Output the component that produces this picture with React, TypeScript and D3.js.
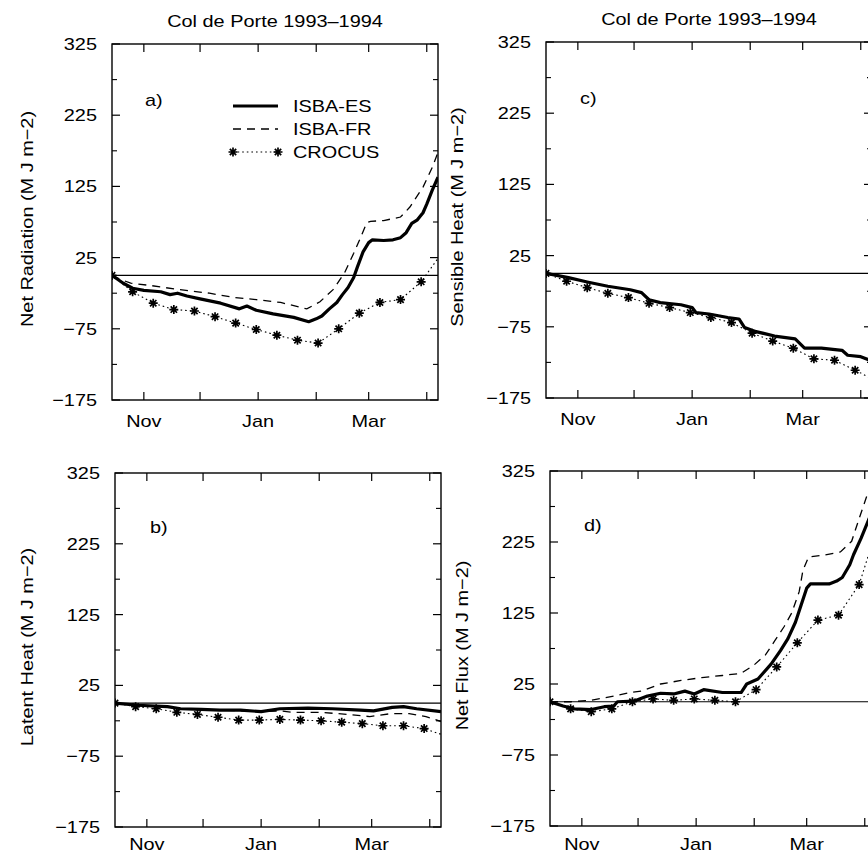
import React from 'react';
import * as d3 from 'd3';

type Pt = [number, number];

// ---------- axis definitions ----------
const SEASON_START = '1993-10-15';
const SEASON_END = '1994-04-07';
const MONTH_TICK_DATES = ['1993-11-01', '1993-12-01', '1994-01-01', '1994-02-01', '1994-03-01', '1994-04-01'];
const MONTH_TICK_LABELS = ['Nov', '', 'Jan', '', 'Mar', ''];
const Y_MAJOR = [325, 225, 125, 25, -75, -175];
const Y_MINOR = [275, 175, 75, -25, -125];
const Y_DOMAIN = [-175, 325];
const TITLE = 'Col de Porte 1993\u20131994';
const SERIES_NAMES = ['ISBA-ES', 'ISBA-FR', 'CROCUS'];

// ---------- data: [days since 15 Oct 1993, value (MJ m-2)] ----------
const NETRAD_ES: Pt[] = [[0,0],[6,-11],[11,-18],[17,-21],[26,-23],[31,-27],[35,-25],[40,-29],[47,-33],[58,-39],[68,-47],[72,-43],[77,-49],[86,-54],[97,-59],[105,-65],[109,-61],[112,-57],[116,-47],[120,-38],[123,-27],[126,-17],[129,-3],[131,12],[134,33],[137,46],[139,50],[145,49],[150,50],[154,53],[157,60],[160,73],[163,78],[166,88],[168,100],[171,120],[174,138]];
const NETRAD_FR: Pt[] = [[0,0],[5,-6],[10,-11],[20,-14],[36,-20],[52,-25],[65,-31],[77,-34],[90,-38],[104,-47],[111,-37],[118,-20],[124,3],[129,31],[132,49],[136,74],[138,76],[145,77],[154,82],[159,96],[166,124],[171,152],[174,173]];

const LATENT_ES: Pt[] = [[0,0],[12,-3],[28,-5],[35,-8],[46,-9],[56,-10],[67,-10],[78,-12],[88,-8],[103,-7],[116,-8],[131,-10],[138,-11],[148,-6],[154,-5],[161,-8],[174,-12]];
const LATENT_FR: Pt[] = [[0,0],[12,-3],[28,-6],[35,-8],[46,-9],[56,-10],[67,-11],[78,-12],[88,-11],[95,-13],[110,-13],[124,-16],[136,-19],[147,-15],[157,-15],[166,-19],[174,-26]];

const SENSIBLE_ES: Pt[] = [[0,0],[12,-6],[22,-12],[33,-18],[45,-23],[51,-27],[55,-37],[61,-41],[72,-44],[78,-48],[80,-55],[87,-57],[97,-62],[103,-64],[106,-76],[111,-81],[122,-88],[133,-92],[138,-105],[147,-105],[158,-108],[161,-115],[168,-117],[174,-123]];
const SENSIBLE_FR: Pt[] = [[0,0],[12,-6],[22,-12],[33,-18],[45,-23],[51,-27],[55,-37],[61,-41],[72,-44],[78,-48],[80,-55],[87,-57],[97,-62],[103,-64],[106,-76],[111,-81],[122,-88],[133,-92],[138,-105],[147,-105],[158,-108],[161,-115],[168,-117],[174,-123]];

const NETFLUX_ES: Pt[] = [[0,0],[7,-6],[13,-10],[22,-11],[29,-7],[34,-6],[36,0],[45,1],[52,8],[59,12],[66,11],[72,15],[77,11],[82,17],[92,13],[102,13],[105,25],[111,32],[118,53],[123,72],[127,89],[131,112],[134,136],[137,160],[139,166],[149,166],[153,170],[156,175],[160,193],[162,207],[166,230],[170,256],[174,280]];
const NETFLUX_FR: Pt[] = [[0,0],[11,0],[22,2],[34,8],[43,13],[49,15],[59,25],[70,30],[81,34],[92,37],[102,40],[109,52],[115,66],[120,86],[125,106],[129,125],[133,155],[135,185],[138,204],[147,207],[155,211],[161,226],[165,258],[169,289],[174,320]];

// CROCUS output days (markers on all but the last)
const CROCUS_DAYS = [0, 11, 22, 33, 44, 55, 66, 77, 88, 99, 110, 121, 132, 143, 154, 165, 174];
const NETRAD_CROCUS = [0, -23, -39, -48, -50, -58, -67, -76, -84, -91, -95, -75, -53, -38, -34, -9, 24];
const LATENT_CROCUS = [0, -5, -8, -13, -16, -20, -24, -24, -23, -24, -25, -27, -29, -32, -32, -36, -44];
const SENSIBLE_CROCUS = [0, -11, -20, -28, -34, -42, -48, -55, -62, -69, -84, -95, -105, -120, -122, -136, -148];
const NETFLUX_CROCUS = [0, -10, -14, -10, 0, 4, 2, 4, 2, 0, 17, 49, 83, 115, 122, 165, 240];

// ---------- layout ----------
const W = 868;
const H = 854;
const FONT = "'Liberation Sans', Arial, Helvetica, sans-serif";
const SX = 1.17;

const parse = d3.timeParse('%Y-%m-%d');
const START = parse(SEASON_START) as Date;
const END = parse(SEASON_END) as Date;
const dayDate = (d: number) => d3.timeDay.offset(START, d);

interface PanelCfg {
  id: string;
  ylabel: string;
  es: Pt[];
  fr: Pt[];
  cr: number[];
  box: { l: number; r: number; t: number; b: number };
  ylabelX: number;
  xlabelDy: number;
  tag: [number, number];
  title?: number;
  legend?: boolean;
}

const PANELS: PanelCfg[] = [
  { id: 'a', ylabel: 'Net Radiation (M J m\u22122)', es: NETRAD_ES, fr: NETRAD_FR, cr: NETRAD_CROCUS,
    box: { l: 112, r: 438, t: 44, b: 400 }, ylabelX: 33, xlabelDy: 27, tag: [145, 106], title: 27, legend: true },
  { id: 'b', ylabel: 'Latent Heat (M J m\u22122)', es: LATENT_ES, fr: LATENT_FR, cr: LATENT_CROCUS,
    box: { l: 115, r: 441, t: 473, b: 827 }, ylabelX: 33, xlabelDy: 23, tag: [150, 533] },
  { id: 'c', ylabel: 'Sensible Heat (M J m\u22122)', es: SENSIBLE_ES, fr: SENSIBLE_FR, cr: SENSIBLE_CROCUS,
    box: { l: 546, r: 872, t: 42, b: 398 }, ylabelX: 463, xlabelDy: 27, tag: [580, 104], title: 25 },
  { id: 'd', ylabel: 'Net Flux (M J m\u22122)', es: NETFLUX_ES, fr: NETFLUX_FR, cr: NETFLUX_CROCUS,
    box: { l: 550, r: 876, t: 471, b: 826 }, ylabelX: 468, xlabelDy: 24, tag: [584, 531] },
];

function Txt({ x, y, anchor = 'start', rot = 0, size = 17, children }: any) {
  return (
    <text
      transform={`translate(${x},${y}) rotate(${rot}) scale(${SX},1)`}
      textAnchor={anchor}
      fontSize={size}
      fontFamily={FONT}
      fill="#000"
    >
      {children}
    </text>
  );
}

function Star({ x, y, r = 4.5 }: { x: number; y: number; r?: number }) {
  const d = [0, 45, 90, 135]
    .map((a) => {
      const rad = (a * Math.PI) / 180;
      const dx = r * Math.cos(rad);
      const dy = r * Math.sin(rad);
      return `M${x - dx},${y - dy}L${x + dx},${y + dy}`;
    })
    .join('');
  return <path d={d} stroke="#000" strokeWidth={1.7} fill="none" />;
}

function Panel({ cfg }: { cfg: PanelCfg }) {
  const { box } = cfg;
  const x = d3.scaleTime().domain([START, END]).range([box.l, box.r]);
  const y = d3.scaleLinear().domain(Y_DOMAIN).range([box.b, box.t]);
  const line = d3
    .line<Pt>()
    .x((p) => x(dayDate(p[0])))
    .y((p) => y(p[1]));
  const crPts: Pt[] = CROCUS_DAYS.map((d, i) => [d, cfg.cr[i]]);
  const monthTicks = MONTH_TICK_DATES.map((s) => parse(s) as Date);
  const clipId = `clip-${cfg.id}`;
  const cx = (box.l + box.r) / 2;
  const cy = (box.t + box.b) / 2;

  return (
    <g>
      <defs>
        <clipPath id={clipId}>
          <rect x={box.l} y={box.t} width={box.r - box.l} height={box.b - box.t} />
        </clipPath>
      </defs>
      {cfg.title !== undefined && (
        <Txt x={cx} y={cfg.title} anchor="middle">{TITLE}</Txt>
      )}
      {/* frame */}
      <rect x={box.l} y={box.t} width={box.r - box.l} height={box.b - box.t} fill="none" stroke="#000" strokeWidth={1.4} />
      {/* y ticks both sides */}
      {Y_MAJOR.map((v) => (
        <g key={`M${v}`}>
          <line x1={box.l} x2={box.l + 8} y1={y(v)} y2={y(v)} stroke="#000" strokeWidth={1.2} />
          <line x1={box.r} x2={box.r - 8} y1={y(v)} y2={y(v)} stroke="#000" strokeWidth={1.2} />
          <Txt x={box.l - 15} y={y(v) + 6} anchor="end">{v < 0 ? `\u2212${Math.abs(v)}` : `${v}`}</Txt>
        </g>
      ))}
      {Y_MINOR.map((v) => (
        <g key={`m${v}`}>
          <line x1={box.l} x2={box.l + 5} y1={y(v)} y2={y(v)} stroke="#000" strokeWidth={1.1} />
          <line x1={box.r} x2={box.r - 5} y1={y(v)} y2={y(v)} stroke="#000" strokeWidth={1.1} />
        </g>
      ))}
      {/* x ticks top and bottom */}
      {monthTicks.map((d, i) => (
        <g key={`x${i}`}>
          <line x1={x(d)} x2={x(d)} y1={box.b} y2={box.b - 8} stroke="#000" strokeWidth={1.2} />
          <line x1={x(d)} x2={x(d)} y1={box.t} y2={box.t + 8} stroke="#000" strokeWidth={1.2} />
          {MONTH_TICK_LABELS[i] && (
            <Txt x={x(d)} y={box.b + cfg.xlabelDy} anchor="middle">{MONTH_TICK_LABELS[i]}</Txt>
          )}
        </g>
      ))}
      {/* zero line */}
      <line x1={box.l} x2={box.r} y1={y(0)} y2={y(0)} stroke="#000" strokeWidth={1.1} />
      {/* y label */}
      <Txt x={cfg.ylabelX} y={cy - 3} anchor="middle" rot={-90}>{cfg.ylabel}</Txt>
      {/* panel tag */}
      <Txt x={cfg.tag[0]} y={cfg.tag[1]}>{`${cfg.id})`}</Txt>
      {/* series */}
      <g clipPath={`url(#${clipId})`}>
        <path d={line(crPts) || ''} fill="none" stroke="#000" strokeWidth={1.1} strokeDasharray="1.6,3" />
        <path d={line(cfg.fr) || ''} fill="none" stroke="#000" strokeWidth={1.3} strokeDasharray="8,6" />
        <path d={line(cfg.es) || ''} fill="none" stroke="#000" strokeWidth={3.2} strokeLinejoin="round" />
        {crPts.slice(0, crPts.length - 1).map((p, i) => (
          <Star key={i} x={x(dayDate(p[0]))} y={y(p[1])} />
        ))}
      </g>
      {cfg.legend && (
        <g>
          <line x1={233} x2={278} y1={106} y2={106} stroke="#000" strokeWidth={3.2} />
          <Txt x={293} y={112}>{SERIES_NAMES[0]}</Txt>
          <line x1={233} x2={278} y1={129} y2={129} stroke="#000" strokeWidth={1.3} strokeDasharray="8,6" />
          <Txt x={293} y={135}>{SERIES_NAMES[1]}</Txt>
          <line x1={233} x2={278} y1={152} y2={152} stroke="#000" strokeWidth={1.1} strokeDasharray="1.6,3" />
          <Star x={233} y={152} />
          <Star x={278} y={152} />
          <Txt x={293} y={158}>{SERIES_NAMES[2]}</Txt>
        </g>
      )}
    </g>
  );
}

export default function App() {
  return (
    <div style={{ position: 'absolute', left: 0, top: 0, width: W, height: H, overflow: 'hidden', background: '#fff' }}>
      <svg width={W} height={H} viewBox={`0 0 ${W} ${H}`} style={{ display: 'block' }}>
        <rect width={W} height={H} fill="#fff" />
        {PANELS.map((p) => (
          <Panel key={p.id} cfg={p} />
        ))}
      </svg>
    </div>
  );
}
